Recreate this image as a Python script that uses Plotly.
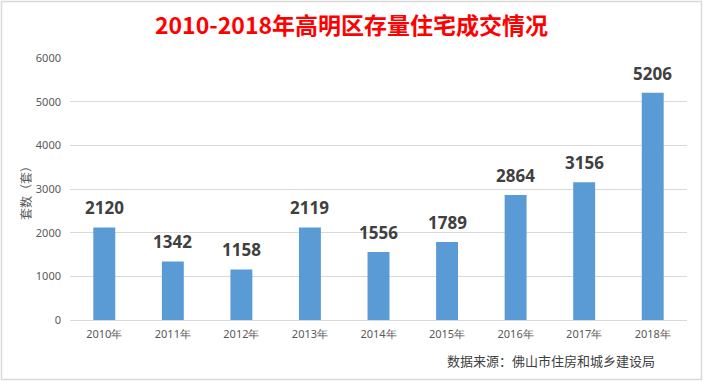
import plotly.graph_objects as go

years = ["2010年", "2011年", "2012年", "2013年", "2014年", "2015年", "2016年", "2017年", "2018年"]
volumes = [2120, 1342, 1158, 2119, 1556, 1789, 2864, 3156, 5206]
y_ticks = [0, 1000, 2000, 3000, 4000, 5000, 6000]

W, H = 703, 381
L, R, T, B = 70, 16, 58, 61
pw, ph = W - L - R, H - T - B

fig = go.Figure()
fig.add_trace(go.Bar(
    x=years, y=volumes,
    marker=dict(color="#5b9bd5", line=dict(width=0)),
    hoverinfo="x+y",
))

for yr, v in zip(years, volumes):
    fig.add_annotation(
        x=yr, y=v, text=f"<b>{v}</b>", showarrow=False,
        yanchor="bottom", yshift=6,
        font=dict(family="Noto Sans, Open Sans, sans-serif", size=17, color="#404040"),
    )

# chart border
fig.add_shape(type="rect", xref="paper", yref="paper",
              x0=(1.5 - L) / pw, x1=(W - 1.5 - L) / pw,
              y0=-(B - 1.5) / ph, y1=(H - 1.5 - B) / ph,
              line=dict(color="#d9d9d9", width=1.5), fillcolor="rgba(0,0,0,0)", layer="below")

# y-axis title
fig.add_annotation(
    xref="paper", yref="paper", x=(25 - L) / pw, y=(H - B - 190) / ph,
    xanchor="center", yanchor="middle", showarrow=False, textangle=-90,
    text="套数（套）",
    font=dict(family="Noto Sans CJK SC, sans-serif", size=12, color="#595959"),
)

# source note
fig.add_annotation(
    xref="paper", yref="paper", x=(657 - L) / pw, y=-(360 - (H - B)) / ph,
    xanchor="right", yanchor="middle", showarrow=False,
    text="数据来源：佛山市住房和城乡建设局",
    font=dict(family="Noto Sans CJK SC, sans-serif", size=13, color="#404040"),
)

fig.update_layout(
    width=W, height=H,
    margin=dict(l=L, r=R, t=T, b=B, autoexpand=False),
    paper_bgcolor="white", plot_bgcolor="white",
    bargap=0.68,
    showlegend=False,
    title=dict(
        text="<b>2010-2018年高明区存量住宅成交情况</b>",
        x=0.5, xanchor="center", xref="container", y=1 - 26 / H, yanchor="middle",
        font=dict(family="Noto Sans CJK SC, sans-serif", size=23, color="#ff0000"),
    ),
    xaxis=dict(
        automargin=False,
        showgrid=False, showline=True, linecolor="#d9d9d9", linewidth=1,
        ticks="", tickfont=dict(family="Noto Sans, sans-serif", size=11, color="#595959"),
        ticklabelstandoff=4,
    ),
    yaxis=dict(
        automargin=False,
        range=[0, 6000], tickvals=y_ticks, showgrid=True, gridcolor="#d9d9d9", gridwidth=1,
        zeroline=False, showline=False, ticks="",
        tickfont=dict(family="Noto Sans, sans-serif", size=11, color="#595959"),
        ticklabelstandoff=8,
    ),
)

fig.write_html("out.html", config={"displayModeBar": False},
               post_script="document.body.style.margin='0';")
